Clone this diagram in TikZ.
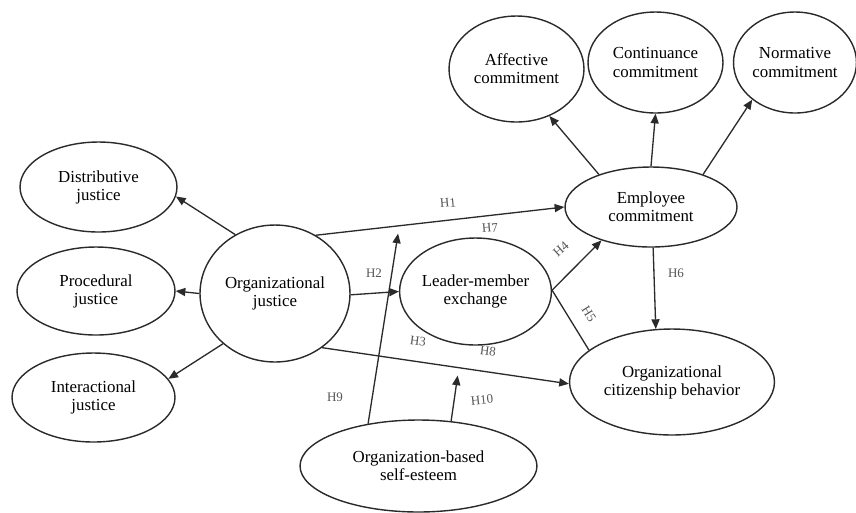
\documentclass[tikz,border=0pt]{standalone}
\usepackage{fontspec}
\setmainfont{Liberation Serif}
\usepackage{xcolor}
\usetikzlibrary{shapes.geometric,arrows.meta}
\definecolor{ink}{HTML}{2A2A2A}
\definecolor{muted}{HTML}{555555}
\tikzset{
  oval/.style={ellipse, draw=ink, line width=0.8pt, inner sep=0pt, align=center, text=black, font=\fontsize{9.6}{10.3}\selectfont},
  arr/.style={draw=ink, line width=0.75pt, -{Triangle[length=5.5pt,width=4.6pt]}},
  link/.style={draw=ink, line width=0.75pt},
  hyp/.style={text=muted, font=\fontsize{7.4}{8}\selectfont, inner sep=0.5pt},
}

\begin{document}
\begin{tikzpicture}[x=0.02cm, y=-0.02cm]
  \useasboundingbox (0,0) rectangle (856,512);

  % commitment side
  \node[oval, minimum width=2.7cm, minimum height=2.12cm] (aff) at (516.5,69) {Affective\\commitment};
  \node[oval, minimum width=2.7cm, minimum height=2.02cm] (cont) at (655.5,62.5) {Continuance\\commitment};
  \node[oval, minimum width=2.46cm, minimum height=2.02cm] (norm) at (795,62.5) {Normative\\commitment};
  \node[oval, minimum width=3.44cm, minimum height=1.6cm] (emp) at (651,207) {Employee\\commitment};
  \node[oval, minimum width=4.1cm, minimum height=2.12cm] (ocb) at (672,382) {Organizational\\citizenship behavior};

  % justice side
  \node[oval, minimum width=3.14cm, minimum height=1.8cm] (dist) at (98.5,187) {Distributive\\justice};
  \node[oval, minimum width=3.16cm, minimum height=1.76cm] (proc) at (96,291) {Procedural\\justice};
  \node[oval, minimum width=3.26cm, minimum height=1.78cm] (inter) at (93.5,397.5) {Interactional\\justice};
  \node[oval, minimum width=3.0cm, minimum height=2.74cm] (oj) at (275,293.5) {Organizational\\justice};
  \node[oval, minimum width=3.02cm, minimum height=2.14cm] (lmx) at (475.5,291.5) {Leader-member\\exchange};
  \node[oval, minimum width=4.74cm, minimum height=1.84cm] (obse) at (418.5,466) {Organization-based\\self-esteem};

  \draw[arr] (oj.124) -- (dist.-7);
  \draw[arr] (oj.180) -- (proc.0);
  \draw[arr] (oj.-136) -- (inter.14);

  \draw[arr] (emp.148) -- (aff.-55);
  \draw[arr] (emp.90) -- (cont.-90);
  \draw[arr] (emp.32) -- (norm.-139);

  \draw[arr] (oj.55) -- coordinate[pos=0.336] (m9) (emp.180);
  \draw[arr] (oj.-1) -- (lmx.180);
  \draw[arr] (oj.-49) -- coordinate[pos=0.554] (m10) (ocb.181);
  \draw[arr] (lmx.1) -- (emp.-146);
  \draw[link] (lmx.1) -- (ocb.159);
  \draw[arr] (emp.-87) -- (ocb.107);

  \draw[arr, shorten >=4.5pt] (obse.140) -- (m9);
  \draw[arr, shorten >=4.5pt] (obse.54) -- (m10);

  \node[hyp, rotate=5] (h1) at (448,203) {H1};
  \node[hyp] (h2) at (374,273) {H2};
  \node[hyp, rotate=-7] (h3) at (418,341) {H3};
  \node[hyp, rotate=42] (h4) at (561,249) {H4};
  \node[hyp, rotate=-58] (h5) at (589,314) {H5};
  \node[hyp] (h6) at (676,273) {H6};
  \node[hyp, rotate=5] (h7) at (490,228) {H7};
  \node[hyp, rotate=-7] (h8) at (488,351) {H8};
  \node[hyp] (h9) at (335,397) {H9};
  \node[hyp, rotate=6] (h10) at (482,400) {H10};
\end{tikzpicture}
\end{document}
